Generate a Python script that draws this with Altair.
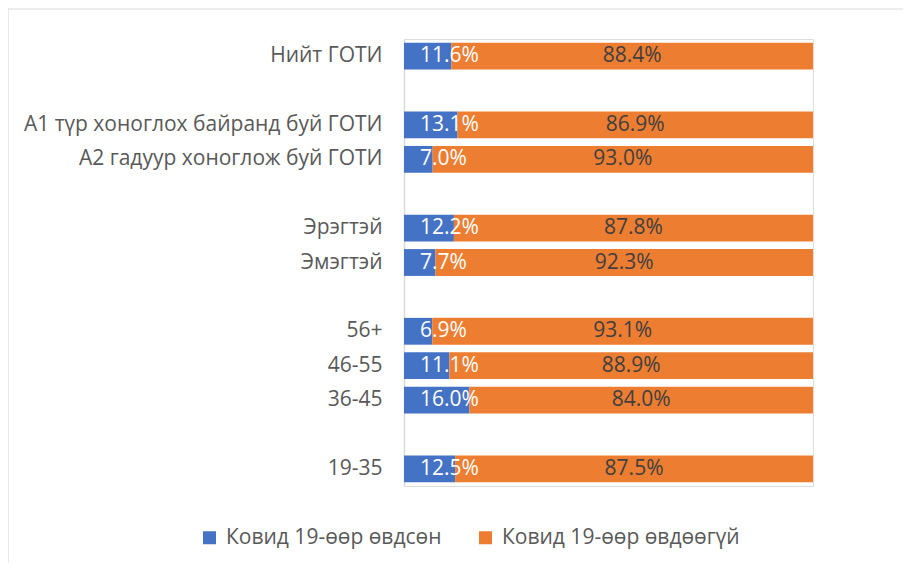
import altair as alt
import pandas as pd

categories = ["Нийт ГОТИ", "А1 түр хоноглох байранд буй ГОТИ", "А2 гадуур хоноглож буй ГОТИ",
              "Эрэгтэй", "Эмэгтэй", "56+", "46-55", "36-45", "19-35"]
sick = [11.6, 13.1, 7.0, 12.2, 7.7, 6.9, 11.1, 16.0, 12.5]
not_sick = [88.4, 86.9, 93.0, 87.8, 92.3, 93.1, 88.9, 84.0, 87.5]
row_order = ["Нийт ГОТИ", " ", "А1 түр хоноглох байранд буй ГОТИ", "А2 гадуур хоноглож буй ГОТИ", "  ",
             "Эрэгтэй", "Эмэгтэй", "   ", "56+", "46-55", "36-45", "    ", "19-35"]
series = ["Ковид 19-өөр өвдсөн", "Ковид 19-өөр өвдөөгүй"]
colors = ["#4472C4", "#ED7D31"]

rows = []
for c, a, b in zip(categories, sick, not_sick):
    rows.append({"cat": c, "series": series[0], "start": 0, "end": a, "mid": a / 2, "label": f"{a:.1f}%"})
    rows.append({"cat": c, "series": series[1], "start": a, "end": a + b, "mid": a + b / 2, "label": f"{b:.1f}%"})
df = pd.DataFrame(rows)

FONT = "Open Sans"
FS = 21
yenc = alt.Y("cat:N", scale=alt.Scale(domain=row_order, paddingInner=0.22, paddingOuter=0.11),
             axis=alt.Axis(title=None, ticks=False, labelFontSize=FS, labelColor="#595959",
                           labelPadding=22, labelLimit=600, domainColor="#D9D9D9", domainWidth=1.5,
                           labelFont=FONT))
xscale = alt.Scale(domain=[0, 100], nice=False)

base = alt.Chart(df)
bars = base.mark_bar().encode(
    x=alt.X("start:Q", scale=xscale, axis=None),
    x2="end:Q",
    y=yenc,
    color=alt.Color("series:N", scale=alt.Scale(domain=series, range=colors),
                    legend=alt.Legend(orient="none", legendX=-205, legendY=488, direction="horizontal",
                                      title=None, symbolType="square", symbolSize=169,
                                      labelFontSize=FS, labelColor="#595959", labelFont=FONT,
                                      columnPadding=33, labelOffset=6, padding=0, labelLimit=500,
                                      symbolStrokeWidth=0, symbolOpacity=1)),
)
lab1 = base.transform_filter(alt.datum.series == series[0]).mark_text(
    align="left", baseline="middle", dx=16, fontSize=FS, font=FONT, color="white"
).encode(x=alt.X("start:Q", scale=xscale), y=alt.Y("cat:N", scale=alt.Scale(domain=row_order)), text="label:N")
lab2 = base.transform_filter(alt.datum.series == series[1]).mark_text(
    align="center", baseline="middle", fontSize=FS, font=FONT, color="#404040"
).encode(x=alt.X("mid:Q", scale=xscale), y=alt.Y("cat:N", scale=alt.Scale(domain=row_order)), text="label:N")

frame_data = alt.Data(values=[{"k": 1}])
frame_left = alt.Chart(frame_data).mark_rule(color="#D9D9D9", strokeWidth=1.2).encode(
    x=alt.value(-396), y=alt.value(-30), y2=alt.value(530))
frame_top = alt.Chart(frame_data).mark_rule(color="#D9D9D9", strokeWidth=1.2).encode(
    x=alt.value(-396), x2=alt.value(520), y=alt.value(-30))

chart = alt.layer(frame_left, frame_top, bars, lab1, lab2).properties(
    width=409, height=447,
    autosize=alt.AutoSizeParams(type="none"),
    padding={"left": 396, "top": 31, "right": 90, "bottom": 77},
).configure_view(stroke=None).configure(background="white")

chart.save("out.html", embed_options={"renderer": "svg", "actions": False})
